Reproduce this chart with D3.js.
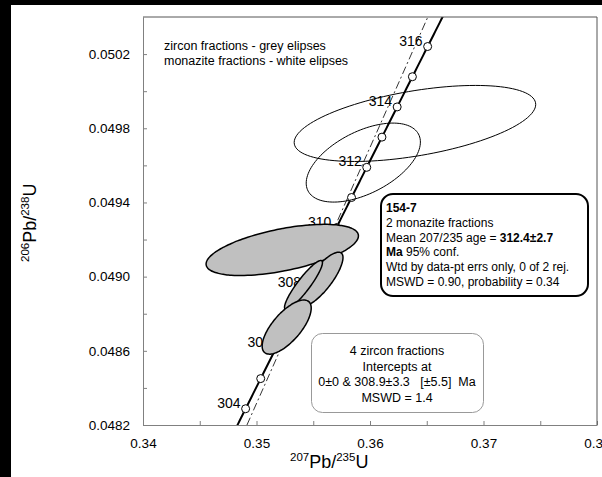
<!DOCTYPE html>
<html>
<head>
<meta charset="utf-8">
<script src="https://cdn.jsdelivr.net/npm/d3@7"></script>
<style>
  body { margin: 0; background: #fff; }
  text { font-family: "Liberation Sans", Arial, sans-serif; }
</style>
</head>
<body>
<div id="chart"></div>
<script>
// axis ticks
var xTicks = [0.34, 0.35, 0.36, 0.37, 0.38];
var xMinor = [0.345, 0.355, 0.365, 0.375];
var yTicks = [0.0482, 0.0486, 0.0490, 0.0494, 0.0498, 0.0502];
var yMinor = [0.0484, 0.0488, 0.0492, 0.0496, 0.0500];

// concordia age marks (Ma) and which ones get a label
var concordiaAges = [304, 305, 306, 307, 308, 309, 310, 311, 312, 313, 314, 315, 316];
var labelAges = [304, 306, 308, 310, 312, 314, 316];

// decay constants (1/yr)
var lambda238 = 1.55125e-10, lambda235 = 9.8485e-10;

// discordia upper intercept (Ma), lower intercept at 0
var upperIntercept = 308.9;

// error ellipses: centre, half-widths, correlation (drawn in this order)
var zircon = [
  {cx: 0.35227, cy: 0.049144, sx: 0.00671, sy: 0.000138, rho: 0.55},
  {cx: 0.35568, cy: 0.048986, sx: 0.00194, sy: 0.000146, rho: 0.80},
  {cx: 0.35414, cy: 0.048955, sx: 0.00167, sy: 0.000132, rho: 0.91},
  {cx: 0.35266, cy: 0.048728, sx: 0.00216, sy: 0.000146, rho: 0.70}
];
var monazite = [
  {cx: 0.36396, cy: 0.049826, sx: 0.01064, sy: 0.000205, rho: 0.50},
  {cx: 0.35941, cy: 0.049615, sx: 0.00503, sy: 0.000213, rho: 0.52}
];

var W = 602, H = 477;
var svg = d3.select("#chart").append("svg")
    .attr("width", W)
    .attr("height", H);

svg.append("rect").attr("width", W).attr("height", H).attr("fill", "#fff");
svg.append("rect").attr("x", 0).attr("y", 0).attr("width", 11).attr("height", H).attr("fill", "#000");
svg.append("rect").attr("x", 0).attr("y", 0).attr("width", W).attr("height", 5).attr("fill", "#000");

var pLeft = 143, pRight = 597, pTop = 17, pBottom = 425;

var x = d3.scaleLinear().domain([0.34, 0.38]).range([pLeft, pRight]);
var y = d3.scaleLinear().domain([0.0482, 0.0504]).range([pBottom, pTop]);

svg.append("clipPath").attr("id", "plotclip")
  .append("rect")
    .attr("x", pLeft).attr("y", pTop)
    .attr("width", pRight - pLeft).attr("height", pBottom - pTop);

var plot = svg.append("g").attr("clip-path", "url(#plotclip)");

function ratio206(t) { return Math.exp(lambda238 * t * 1e6) - 1; }
function ratio207(t) { return Math.exp(lambda235 * t * 1e6) - 1; }

// discordia through origin and the upper intercept
var slope = ratio206(upperIntercept) / ratio207(upperIntercept);
var disc = [y.domain()[0], y.domain()[1]].map(function(v) { return [v / slope, v]; });
plot.append("path")
    .datum(disc)
    .attr("fill", "none")
    .attr("stroke", "#000")
    .attr("stroke-width", 0.8)
    .attr("stroke-dasharray", "8,3,2,3")
    .attr("d", d3.line().x(function(d) { return x(d[0]); }).y(function(d) { return y(d[1]); }));

// concordia curve
var curve = d3.range(302, 318.01, 0.1).map(function(t) { return [ratio207(t), ratio206(t)]; });
plot.append("path")
    .datum(curve)
    .attr("fill", "none")
    .attr("stroke", "#000")
    .attr("stroke-width", 2)
    .attr("d", d3.line().x(function(d) { return x(d[0]); }).y(function(d) { return y(d[1]); }));

plot.selectAll("circle.age")
    .data(concordiaAges)
    .enter().append("circle")
    .attr("class", "age")
    .attr("cx", function(t) { return x(ratio207(t)); })
    .attr("cy", function(t) { return y(ratio206(t)); })
    .attr("r", 4)
    .attr("fill", "#fff")
    .attr("stroke", "#000")
    .attr("stroke-width", 1);

plot.selectAll("text.age")
    .data(labelAges)
    .enter().append("text")
    .attr("class", "age")
    .attr("x", function(t) { return x(ratio207(t)) - 5; })
    .attr("y", function(t) { return y(ratio206(t)) - 1; })
    .attr("text-anchor", "end")
    .attr("font-size", 14)
    .text(function(t) { return t; });

function ellipsePoints(e) {
  var k = Math.sqrt(1 - e.rho * e.rho);
  return d3.range(0, 360, 3).map(function(a) {
    var th = a * Math.PI / 180;
    return [e.cx + e.sx * Math.cos(th), e.cy + e.sy * (e.rho * Math.cos(th) + k * Math.sin(th))];
  });
}
var eline = d3.line()
    .x(function(d) { return x(d[0]); })
    .y(function(d) { return y(d[1]); })
    .curve(d3.curveCardinalClosed);

plot.selectAll("path.zircon")
    .data(zircon)
    .enter().append("path")
    .attr("class", "zircon")
    .attr("d", function(e) { return eline(ellipsePoints(e)); })
    .attr("fill", "#c0c0c0")
    .attr("stroke", "#000")
    .attr("stroke-width", 1.5);

plot.selectAll("path.monazite")
    .data(monazite)
    .enter().append("path")
    .attr("class", "monazite")
    .attr("d", function(e) { return eline(ellipsePoints(e)); })
    .attr("fill", "none")
    .attr("stroke", "#000")
    .attr("stroke-width", 1);

// axes
var axisColor = "#808080";
var gx = svg.append("g")
    .attr("transform", "translate(0," + pBottom + ")")
    .call(d3.axisBottom(x).tickValues(xTicks).tickSize(-4).tickSizeOuter(0).tickPadding(13.5)
      .tickFormat(d3.format(".2f")));
gx.selectAll("text").attr("font-size", 13.5).attr("fill", "#000").attr("font-family", "Liberation Sans, Arial");
gx.selectAll("line").attr("stroke", axisColor);
gx.select(".domain").attr("stroke", axisColor);

svg.append("g")
    .attr("transform", "translate(0," + pBottom + ")")
    .call(d3.axisBottom(x).tickValues(xMinor).tickSize(-4).tickSizeOuter(0).tickFormat(""))
    .call(function(g) { g.select(".domain").remove(); g.selectAll("line").attr("stroke", axisColor); });

var gy = svg.append("g")
    .attr("transform", "translate(" + pLeft + ",0)")
    .call(d3.axisLeft(y).tickValues(yTicks).tickSize(-4).tickSizeOuter(0).tickPadding(13)
      .tickFormat(d3.format(".4f")));
gy.selectAll("text").attr("font-size", 13.5).attr("fill", "#000").attr("font-family", "Liberation Sans, Arial");
gy.selectAll("line").attr("stroke", axisColor);
gy.select(".domain").attr("stroke", axisColor);

svg.append("g")
    .attr("transform", "translate(" + pLeft + ",0)")
    .call(d3.axisLeft(y).tickValues(yMinor).tickSize(-4).tickSizeOuter(0).tickFormat(""))
    .call(function(g) { g.select(".domain").remove(); g.selectAll("line").attr("stroke", axisColor); });

svg.append("line").attr("x1", pLeft).attr("x2", pRight).attr("y1", pTop).attr("y2", pTop)
    .attr("stroke", "#555");
svg.append("line").attr("x1", pRight).attr("x2", pRight).attr("y1", pTop).attr("y2", pBottom)
    .attr("stroke", "#555");

// axis titles
var xt = svg.append("text")
    .attr("x", 290).attr("y", 468)
    .attr("font-size", 18);
xt.append("tspan").attr("font-size", 11.5).attr("dy", -7).text("207");
xt.append("tspan").attr("dy", 7).text("Pb/");
xt.append("tspan").attr("font-size", 11.5).attr("dy", -7).text("235");
xt.append("tspan").attr("dy", 7).text("U");

var yt = svg.append("text")
    .attr("transform", "translate(36,262) rotate(-90)")
    .attr("font-size", 18);
yt.append("tspan").attr("font-size", 11.5).attr("dy", -7).text("206");
yt.append("tspan").attr("dy", 7).text("Pb/");
yt.append("tspan").attr("font-size", 11.5).attr("dy", -7).text("238");
yt.append("tspan").attr("dy", 7).text("U");

// legend note
var note = ["zircon fractions - grey elipses", "monazite fractions - white elipses"];
svg.selectAll("text.note")
    .data(note)
    .enter().append("text")
    .attr("class", "note")
    .attr("x", 164)
    .attr("y", function(d, i) { return 50 + i * 15; })
    .attr("font-size", 12.5)
    .text(function(d) { return d; });

// monazite result box
svg.append("rect")
    .attr("x", 381).attr("y", 194).attr("width", 207).attr("height", 102)
    .attr("rx", 12).attr("ry", 12)
    .attr("fill", "#fff").attr("stroke", "#000").attr("stroke-width", 2);

var boxLines = [
  [["154-7", true]],
  [["2 monazite fractions", false]],
  [["Mean 207/235 age = ", false], ["312.4\u00b12.7", true]],
  [["Ma", true], [" 95% conf.", false]],
  [["Wtd by data-pt errs only, 0 of 2 rej.", false]],
  [["MSWD = 0.90, probability = 0.34", false]]
];
boxLines.forEach(function(parts, i) {
  var t = svg.append("text")
      .attr("x", 386)
      .attr("y", 212 + i * 14.8)
      .attr("font-size", 12);
  parts.forEach(function(p) {
    t.append("tspan").attr("font-weight", p[1] ? "bold" : "normal").text(p[0]);
  });
});

// zircon result box
svg.append("rect")
    .attr("x", 311.5).attr("y", 333.5).attr("width", 172).attr("height", 79)
    .attr("rx", 11).attr("ry", 11)
    .attr("fill", "#fff").attr("stroke", "#999").attr("stroke-width", 1);

var zirconLines = ["4 zircon fractions", "Intercepts at", "0\u00b10 & 308.9\u00b13.3   [\u00b15.5]  Ma", "MSWD = 1.4"];
svg.selectAll("text.zbox")
    .data(zirconLines)
    .enter().append("text")
    .attr("class", "zbox")
    .attr("x", 397)
    .attr("y", function(d, i) { return 355 + i * 15.5; })
    .attr("text-anchor", "middle")
    .attr("font-size", 12.5)
    .style("white-space", "pre")
    .text(function(d) { return d; });
</script>
</body>
</html>
